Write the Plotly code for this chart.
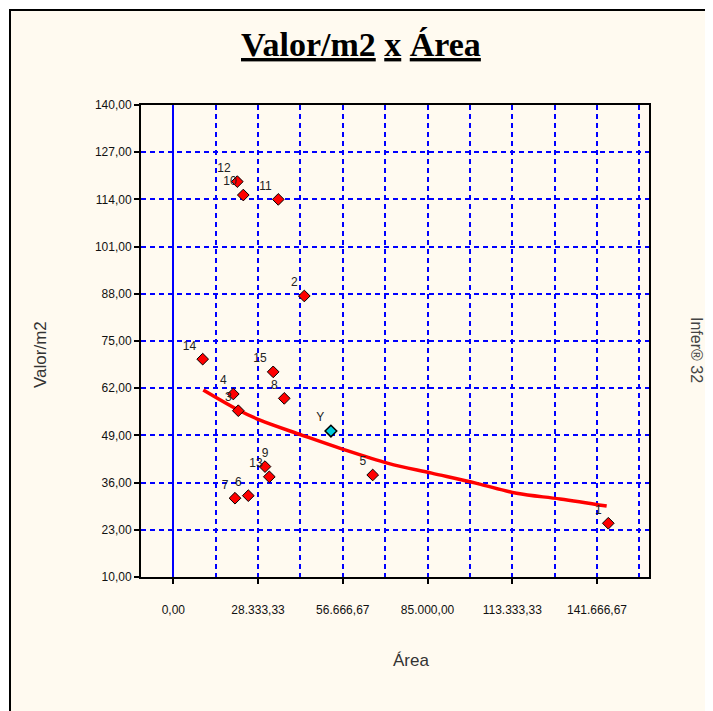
import plotly.graph_objects as go

# Observed data points (Área, Valor/m2)
point_labels = ["12", "10", "11", "2", "14", "15", "8", "4", "3", "9", "13", "7", "6", "5", "1"]
area = [21400, 23400, 35100, 43800, 9830, 33400, 37100, 20060, 21730, 30660, 32100, 20630, 25080, 66670, 145440]
valor = [118.9, 115.2, 114.0, 87.4, 70.0, 66.5, 59.2, 60.4, 55.8, 40.4, 37.6, 31.7, 32.4, 38.1, 24.8]

# Estimated point (Y)
y_label = ["Y"]
y_area = [52700]
y_valor = [50.2]

# Fitted curve
curve_area = [10030, 21730, 28990, 42930, 56300, 71880, 86390, 101440, 114810, 129290, 144900]
curve_valor = [61.5, 56.0, 53.2, 49.1, 45.3, 41.3, 38.6, 35.8, 33.05, 31.5, 29.55]

# Axis ticks
y_ticks = [10, 23, 36, 49, 62, 75, 88, 101, 114, 127, 140]
y_ticktext = ["10,00", "23,00", "36,00", "49,00", "62,00", "75,00", "88,00", "101,00", "114,00", "127,00", "140,00"]
x_ticks = [0, 28333.33, 56666.67, 85000.0, 113333.33, 141666.67]
x_ticktext = ["0,00", "28.333,33", "56.666,67", "85.000,00", "113.333,33", "141.666,67"]

CREAM = "#FFFAF0"
BLUE = "#0000FF"

fig = go.Figure()

fig.add_trace(go.Scatter(
    x=curve_area, y=curve_valor, mode="lines",
    line=dict(color="#FF0000", width=3.5, shape="spline"),
    hoverinfo="skip", showlegend=False,
))

label_pos = ["top center" if t == "9" else "top left" for t in point_labels]

fig.add_trace(go.Scatter(
    x=area, y=valor, mode="markers+text", text=point_labels,
    textposition=label_pos,
    textfont=dict(family="Liberation Sans", size=12, color="#222222"),
    marker=dict(symbol="diamond", size=9, color="#FF0000", line=dict(color="#000000", width=1)),
    showlegend=False,
))

fig.add_trace(go.Scatter(
    x=y_area, y=y_valor, mode="markers+text", text=y_label,
    textposition="top left",
    textfont=dict(family="Liberation Sans", size=12, color="#222222"),
    marker=dict(symbol="diamond", size=9, color="#00CCDD", line=dict(color="#000000", width=1.5)),
    showlegend=False,
))

grid_common = dict(gridcolor=BLUE, gridwidth=1.5, griddash="5px,4px")

fig.update_xaxes(
    range=[-10800, 159050],
    tickmode="array", tickvals=x_ticks, ticktext=x_ticktext,
    ticks="outside", ticklen=5, tickcolor="#000000", tickwidth=1.5,
    ticklabelstandoff=16,
    tickfont=dict(family="Liberation Sans", size=12, color="#111111"),
    showline=True, linecolor="#000000", linewidth=2, mirror=True,
    showgrid=True, **grid_common,
    minor=dict(tickmode="linear", tick0=0, dtick=14166.6667, showgrid=True,
               gridcolor=BLUE, gridwidth=1.5, griddash="5px,4px", ticks=""),
    zeroline=True, zerolinecolor=BLUE, zerolinewidth=2,
)

fig.update_yaxes(
    range=[10, 140],
    tickmode="array", tickvals=y_ticks, ticktext=y_ticktext,
    ticks="outside", ticklen=5, tickcolor="#000000", tickwidth=1.5,
    tickfont=dict(family="Liberation Sans", size=12, color="#111111"),
    showline=True, linecolor="#000000", linewidth=2, mirror=True,
    showgrid=True, **grid_common,
    zeroline=False,
)

# The page body has an 8px margin; compensate so the plot lands where the reference has it.
OFF = 8
W, H = 713 - OFF, 711 - OFF
L, R, T, B = 141 - OFF, 64, 105 - OFF, 134
pw, ph = W - L - R, H - T - B

def px(xp):
    # xp in page pixels
    return (xp - OFF - L) / pw

def py(yp):
    return (H - B - (yp - OFF)) / ph

fig.add_shape(type="rect", xref="paper", yref="paper",
              x0=px(10), x1=px(760), y0=py(10), y1=py(760),
              fillcolor=CREAM, line=dict(color="#000000", width=2), layer="below")

fig.add_annotation(
    text="<b><u>Valor/m2</u> <u>x</u> <u>Área</u></b>",
    xref="paper", yref="paper", x=px(361), y=py(45), showarrow=False,
    font=dict(family="Liberation Serif", size=34, color="#000000"),
    xanchor="center", yanchor="middle",
)
fig.add_annotation(
    text="Valor/m2", xref="paper", yref="paper", x=px(40), y=py(355),
    showarrow=False, textangle=-90,
    font=dict(family="Liberation Sans", size=17, color="#333333"),
    xanchor="center", yanchor="middle",
)
fig.add_annotation(
    text="Área", xref="paper", yref="paper", x=px(411), y=py(660),
    showarrow=False,
    font=dict(family="Liberation Sans", size=17, color="#333333"),
    xanchor="center", yanchor="middle",
)
fig.add_annotation(
    text="Infer® 32", xref="paper", yref="paper", x=px(697), y=py(350),
    showarrow=False, textangle=90,
    font=dict(family="Liberation Sans", size=16, color="#444444"),
    xanchor="center", yanchor="middle",
)

fig.update_layout(
    width=W, height=H,
    margin=dict(l=L, r=R, t=T, b=B, pad=0),
    paper_bgcolor="#FFFFFF",
    plot_bgcolor="#FFFFFF",
    showlegend=False,
)

fig.write_html("out.html")
